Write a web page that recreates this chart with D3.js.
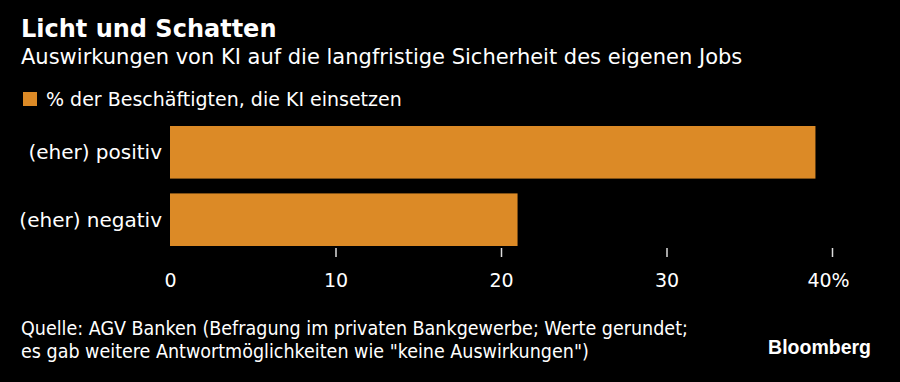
<!DOCTYPE html>
<html lang="de">
<head>
  <meta charset="UTF-8">
  <title>Licht und Schatten</title>
  <script src="https://d3js.org/d3.v7.min.js"></script>
  <style>
    body { margin: 0; background: #000; }
    svg text { font-family: "DejaVu Sans", Verdana, sans-serif; fill: #fff; }
  </style>
</head>
<body>
  <svg id="chart" width="900" height="382"></svg>
  <script>
    // data
    const categories = ["(eher) positiv", "(eher) negativ"];
    const values = [39, 21];
    const tickValues = [0, 10, 20, 30, 40];
    const seriesName = "% der Beschäftigten, die KI einsetzen";

    const svg = d3.select("svg#chart");
    svg.append("rect").attr("width", 900).attr("height", 382).attr("fill", "#000");

    let margin = {left: 170, right: 68, top: 126, bottom: 137};
    let chartWidth = 900 - margin.left - margin.right;

    const xScale = d3.scaleLinear().domain([0, 40]).range([0, chartWidth]);
    const yScale = d3.scaleBand().domain(categories).range([0, 120]).paddingInner(0.22).paddingOuter(0);

    let chartArea = svg.append("g").attr("transform", `translate(${margin.left},${margin.top})`);

    // title block
    svg.append("text").attr("x", 21).attr("y", 37)
       .style("font-size", "24px").style("font-weight", "bold")
       .text("Licht und Schatten");
    svg.append("text").attr("x", 21).attr("y", 64)
       .style("font-size", "21px")
       .text("Auswirkungen von KI auf die langfristige Sicherheit des eigenen Jobs");

    // legend
    svg.append("rect").attr("x", 23).attr("y", 92).attr("width", 14).attr("height", 14).attr("fill", "#dc8a26");
    svg.append("text").attr("x", 46).attr("y", 106)
       .style("font-size", "19px")
       .text(seriesName);

    // bars
    chartArea.selectAll("rect.bar")
      .data(values)
      .join("rect")
      .attr("class", "bar")
      .attr("x", 0)
      .attr("y", (d, i) => yScale(categories[i]))
      .attr("width", d => xScale(d))
      .attr("height", yScale.bandwidth())
      .attr("fill", "#dc8a26");

    // category labels
    chartArea.selectAll("text.cat")
      .data(categories)
      .join("text")
      .attr("class", "cat")
      .attr("x", -8)
      .attr("y", d => yScale(d) + yScale.bandwidth() / 2)
      .attr("dy", "0.35em")
      .attr("text-anchor", "end")
      .style("font-size", "20px")
      .text(d => d);

    // x axis
    let bottomAxis = d3.axisBottom(xScale)
                       .tickValues(tickValues)
                       .tickSize(9)
                       .tickPadding(17)
                       .tickFormat(d => d === 40 ? "40%" : d);
    let axisG = chartArea.append("g")
                   .attr("transform", `translate(0,${122})`)
                   .call(bottomAxis);
    axisG.select(".domain").remove();
    axisG.selectAll(".tick line").attr("stroke", "#ddd").attr("stroke-width", 1.5)
         .attr("display", d => d === 0 ? "none" : null);
    axisG.selectAll(".tick text")
         .attr("dx", d => d === 40 ? -4 : 0)
         .style("font-size", "19px").style("fill", "#fff")
         .style("font-family", "'DejaVu Sans', Verdana, sans-serif");

    // footer
    svg.append("text").attr("x", 21).attr("y", 335)
       .style("font-size", "19.5px").style("font-stretch", "condensed")
       .text("Quelle: AGV Banken (Befragung im privaten Bankgewerbe; Werte gerundet;");
    svg.append("text").attr("x", 21).attr("y", 358)
       .style("font-size", "19.5px").style("font-stretch", "condensed")
       .text("es gab weitere Antwortmöglichkeiten wie \"keine Auswirkungen\")");
    svg.append("text").attr("x", 871).attr("y", 354)
       .attr("text-anchor", "end")
       .style("font-family", "'Liberation Sans', Arial, sans-serif")
       .style("font-size", "19.5px").style("font-weight", "bold")
       .text("Bloomberg");
  </script>
</body>
</html>
